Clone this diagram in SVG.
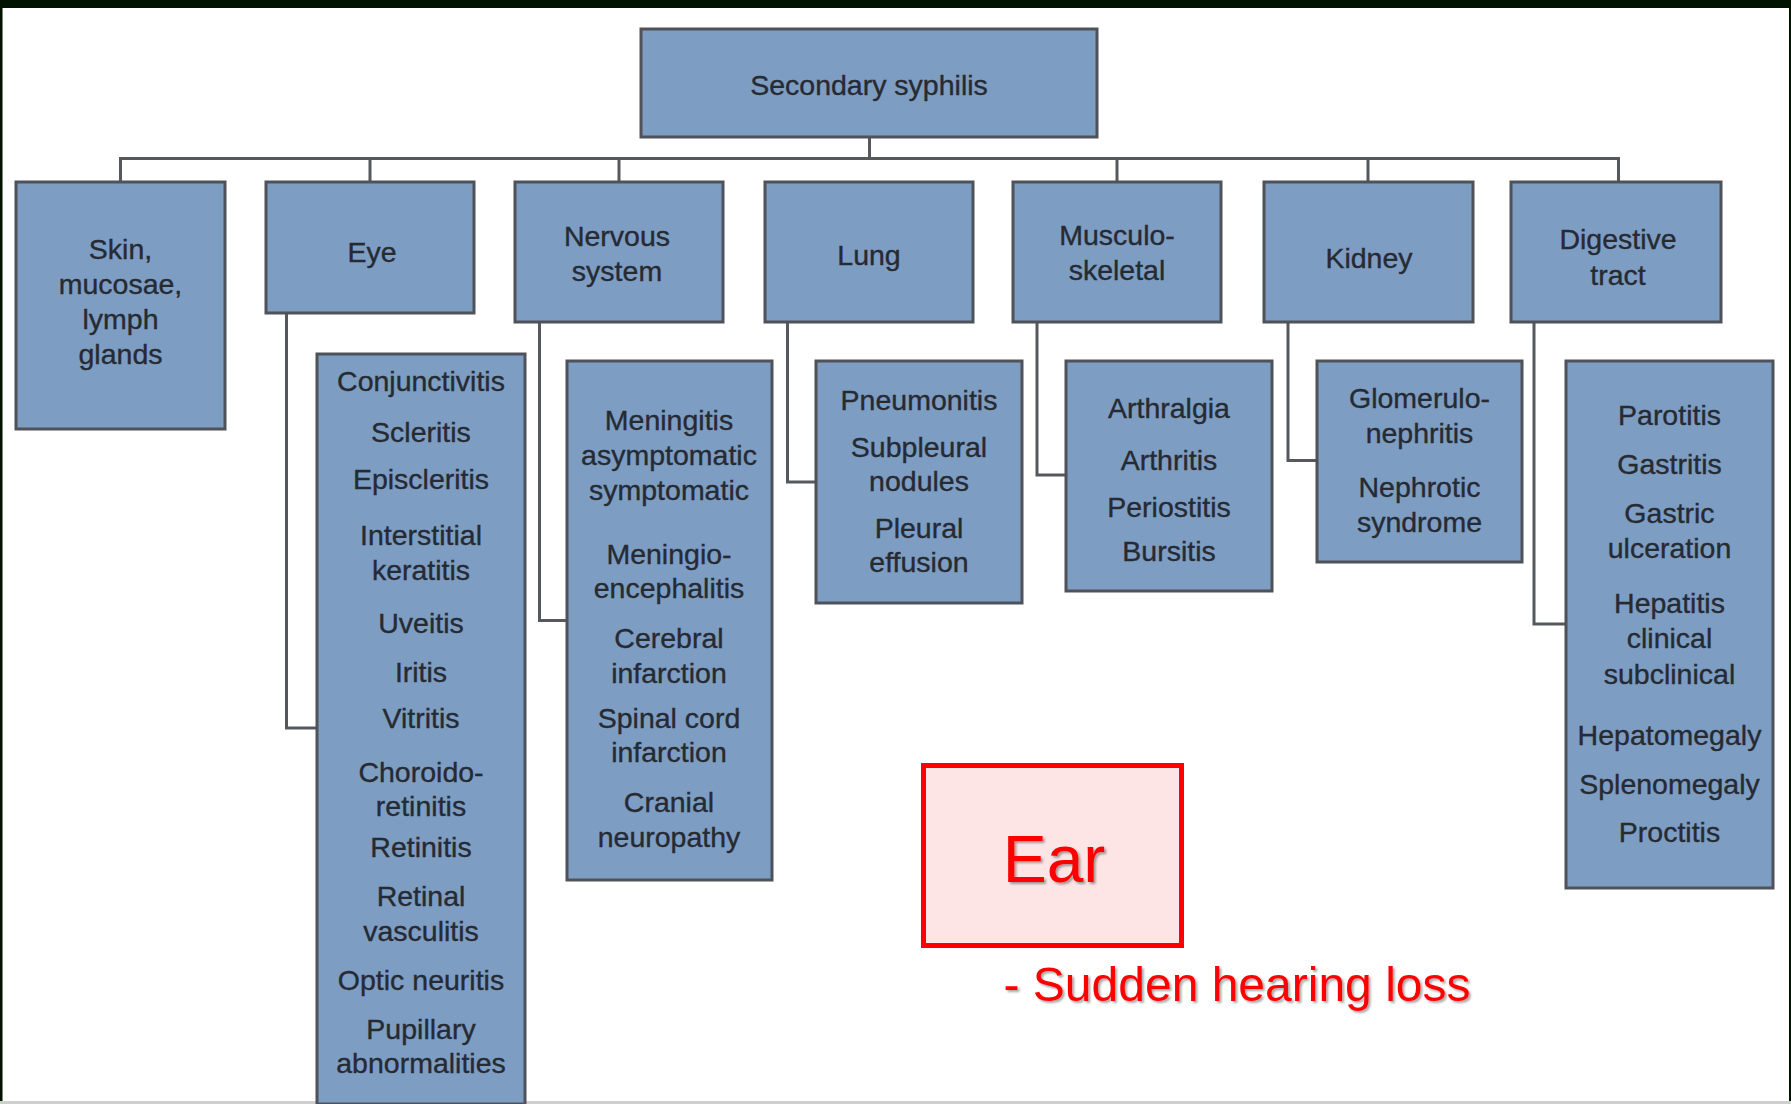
<svg xmlns="http://www.w3.org/2000/svg" width="1791" height="1104" viewBox="0 0 1791 1104">
<defs>
<style>
.box{fill:#7d9dc3;stroke:#4f5258;stroke-width:3}
.t{font-family:"Liberation Sans",Arial,sans-serif;font-size:28.5px;fill:#262a32;stroke:#262a32;stroke-width:0.35;text-anchor:middle}
.c{fill:none;stroke:#55585c;stroke-width:3}
.ear{fill:#fde4e5;stroke:#ff0000;stroke-width:5}
.red{font-family:"Liberation Sans",Arial,sans-serif;fill:#ff0000;text-anchor:middle}
</style>
<filter id="sh" x="-10%" y="-10%" width="120%" height="130%">
<feDropShadow dx="2" dy="2" stdDeviation="1.2" flood-color="#000" flood-opacity="0.35"/>
</filter>
</defs>
<rect x="0" y="0" width="1791" height="1104" fill="#ffffff"/>
<rect x="0" y="0" width="1791" height="8" fill="#001200"/>
<rect x="0" y="0" width="2.5" height="1104" fill="#001200"/>
<rect x="1789" y="0" width="2" height="1104" fill="#001200"/>
<rect x="0" y="1101" width="1791" height="3" fill="#cfcfcf"/>

<g id="connectors">
<path class="c" d="M869.5,137 V158.5 M120.5,182 V158.5 H1618.5 V182 M370,158.5 V182 M619,158.5 V182 M1117,158.5 V182 M1368,158.5 V182"/>
<path class="c" d="M286.5,313 V728 H317"/>
<path class="c" d="M539.5,322 V620.5 H567"/>
<path class="c" d="M787.5,322 V482 H816"/>
<path class="c" d="M1037,322 V475 H1066"/>
<path class="c" d="M1288,322 V460.5 H1317"/>
<path class="c" d="M1534,322 V624 H1566"/>
</g>

<g id="root">
<rect class="box" x="641" y="29" width="456" height="108"/>
<text class="t" x="869" y="95">Secondary syphilis</text>
</g>

<g id="skin">
<rect class="box" x="16" y="182" width="209" height="247"/>
<text class="t" x="120.5" y="259">Skin,</text>
<text class="t" x="120.5" y="294">mucosae,</text>
<text class="t" x="120.5" y="329">lymph</text>
<text class="t" x="120.5" y="364">glands</text>
</g>

<g id="eye">
<rect class="box" x="266" y="182" width="208" height="131"/>
<text class="t" x="372" y="262">Eye</text>
</g>

<g id="nervous">
<rect class="box" x="515" y="182" width="208" height="140"/>
<text class="t" x="617" y="246">Nervous</text>
<text class="t" x="617" y="281">system</text>
</g>

<g id="lung">
<rect class="box" x="765" y="182" width="208" height="140"/>
<text class="t" x="869" y="265">Lung</text>
</g>

<g id="musculo">
<rect class="box" x="1013" y="182" width="208" height="140"/>
<text class="t" x="1117" y="245">Musculo-</text>
<text class="t" x="1117" y="280">skeletal</text>
</g>

<g id="kidney">
<rect class="box" x="1264" y="182" width="209" height="140"/>
<text class="t" x="1369" y="268">Kidney</text>
</g>

<g id="digestive">
<rect class="box" x="1511" y="182" width="210" height="140"/>
<text class="t" x="1618" y="249">Digestive</text>
<text class="t" x="1618" y="285">tract</text>
</g>

<g id="eye-list">
<rect class="box" x="317" y="354" width="208" height="750"/>
<text class="t" x="421" y="391">Conjunctivitis</text>
<text class="t" x="421" y="442">Scleritis</text>
<text class="t" x="421" y="489">Episcleritis</text>
<text class="t" x="421" y="545">Interstitial</text>
<text class="t" x="421" y="580">keratitis</text>
<text class="t" x="421" y="633">Uveitis</text>
<text class="t" x="421" y="682">Iritis</text>
<text class="t" x="421" y="728">Vitritis</text>
<text class="t" x="421" y="782">Choroido-</text>
<text class="t" x="421" y="816">retinitis</text>
<text class="t" x="421" y="857">Retinitis</text>
<text class="t" x="421" y="906">Retinal</text>
<text class="t" x="421" y="941">vasculitis</text>
<text class="t" x="421" y="990">Optic neuritis</text>
<text class="t" x="421" y="1039">Pupillary</text>
<text class="t" x="421" y="1073">abnormalities</text>
</g>

<g id="nervous-list">
<rect class="box" x="567" y="361" width="205" height="519"/>
<text class="t" x="669" y="430">Meningitis</text>
<text class="t" x="669" y="465">asymptomatic</text>
<text class="t" x="669" y="500">symptomatic</text>
<text class="t" x="669" y="564">Meningio-</text>
<text class="t" x="669" y="598">encephalitis</text>
<text class="t" x="669" y="648">Cerebral</text>
<text class="t" x="669" y="683">infarction</text>
<text class="t" x="669" y="728">Spinal cord</text>
<text class="t" x="669" y="762">infarction</text>
<text class="t" x="669" y="812">Cranial</text>
<text class="t" x="669" y="847">neuropathy</text>
</g>

<g id="lung-list">
<rect class="box" x="816" y="361" width="206" height="242"/>
<text class="t" x="919" y="410">Pneumonitis</text>
<text class="t" x="919" y="457">Subpleural</text>
<text class="t" x="919" y="491">nodules</text>
<text class="t" x="919" y="538">Pleural</text>
<text class="t" x="919" y="572">effusion</text>
</g>

<g id="musculo-list">
<rect class="box" x="1066" y="361" width="206" height="230"/>
<text class="t" x="1169" y="418">Arthralgia</text>
<text class="t" x="1169" y="470">Arthritis</text>
<text class="t" x="1169" y="517">Periostitis</text>
<text class="t" x="1169" y="561">Bursitis</text>
</g>

<g id="kidney-list">
<rect class="box" x="1317" y="361" width="205" height="201"/>
<text class="t" x="1419.5" y="408">Glomerulo-</text>
<text class="t" x="1419.5" y="443">nephritis</text>
<text class="t" x="1419.5" y="497">Nephrotic</text>
<text class="t" x="1419.5" y="532">syndrome</text>
</g>

<g id="digestive-list">
<rect class="box" x="1566" y="361" width="207" height="527"/>
<text class="t" x="1669.5" y="425">Parotitis</text>
<text class="t" x="1669.5" y="474">Gastritis</text>
<text class="t" x="1669.5" y="523">Gastric</text>
<text class="t" x="1669.5" y="558">ulceration</text>
<text class="t" x="1669.5" y="613">Hepatitis</text>
<text class="t" x="1669.5" y="648">clinical</text>
<text class="t" x="1669.5" y="684">subclinical</text>
<text class="t" x="1669.5" y="745">Hepatomegaly</text>
<text class="t" x="1669.5" y="794">Splenomegaly</text>
<text class="t" x="1669.5" y="842">Proctitis</text>
</g>

<g id="ear">
<rect class="ear" x="923.5" y="765.5" width="258" height="180"/>
<text class="red" x="1054" y="882" font-size="66" filter="url(#sh)">Ear</text>
</g>

<g id="ear-note">
<text class="red" x="1237" y="1001" font-size="48" filter="url(#sh)">- Sudden hearing loss</text>
</g>
</svg>
